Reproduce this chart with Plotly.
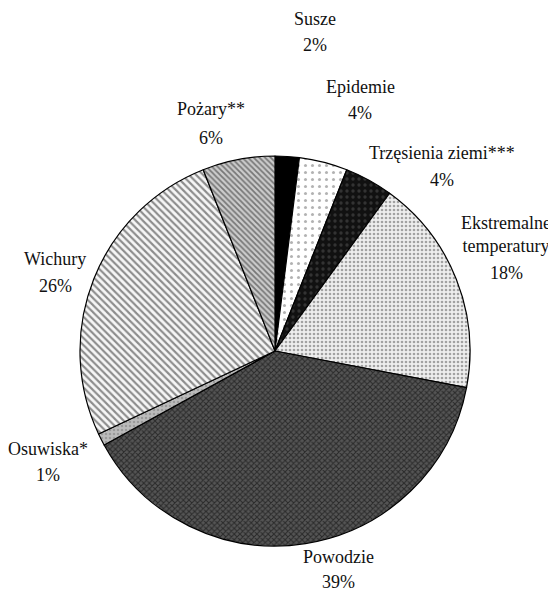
import plotly.graph_objects as go

# share of disaster types (%), clockwise from 12 o'clock
labels = ["Susze", "Epidemie", "Trzęsienia ziemi***", "Ekstremalne<br>temperatury",
          "Powodzie", "Osuwiska*", "Wichury", "Pożary**"]
values = [2, 4, 4, 18, 39, 1, 26, 6]

shapes = ["", ".", ".", ".", "x", ".", "\\", "\\"]
fg = ["#000000", "#666666", "#555555", "#555555", "#000000", "#777777", "#222222", "#222222"]
bg = ["#000000", "#ffffff", "#111111", "#eeeeee", "#555555", "#bbbbbb", "#f6f6f6", "#cccccc"]
sizes = [6, 7, 6, 4, 4, 4, 5, 4]
solidity = [0.3, 0.15, 0.25, 0.35, 0.45, 0.3, 0.42, 0.45]

# label positions (paper px, from the picture): x, name-centre y, percent y
label_pos = [(307, 11, 37), (352, 79, 105), (434, 145, 172), (498, 226, 265),
             (330, 549, 574), (40, 441, 467), (47, 251, 278), (203, 101, 130)]

W, H = 556, 592
cx, cy, r = 267, 343, 195

fig = go.Figure(go.Pie(
    labels=labels,
    values=values,
    sort=False,
    direction="clockwise",
    rotation=0,
    textinfo="none",
    hoverinfo="label+percent",
    marker=dict(
        colors=bg,
        line=dict(color="#000000", width=1.2),
        pattern=dict(shape=shapes, fgcolor=fg, bgcolor=bg, size=sizes,
                     solidity=solidity, fillmode="overlay"),
    ),
    domain=dict(x=[(cx - r) / W, (cx + r) / W], y=[(H - cy - r) / H, (H - cy + r) / H]),
    showlegend=False,
))

font = dict(family="Liberation Serif", size=18, color="#111111")
for lab, val, (x, yn, yp) in zip(labels, values, label_pos):
    fig.add_annotation(x=x / W, y=1 - yn / H, xref="paper", yref="paper",
                       text=lab, showarrow=False, font=font, align="center",
                       xanchor="center", yanchor="middle")
    fig.add_annotation(x=x / W, y=1 - yp / H, xref="paper", yref="paper",
                       text=f"{val}%", showarrow=False, font=font,
                       xanchor="center", yanchor="middle")

fig.update_layout(
    width=W, height=H,
    margin=dict(l=0, r=0, t=0, b=0),
    paper_bgcolor="#ffffff",
    plot_bgcolor="#ffffff",
)

fig.write_html("out.html")
